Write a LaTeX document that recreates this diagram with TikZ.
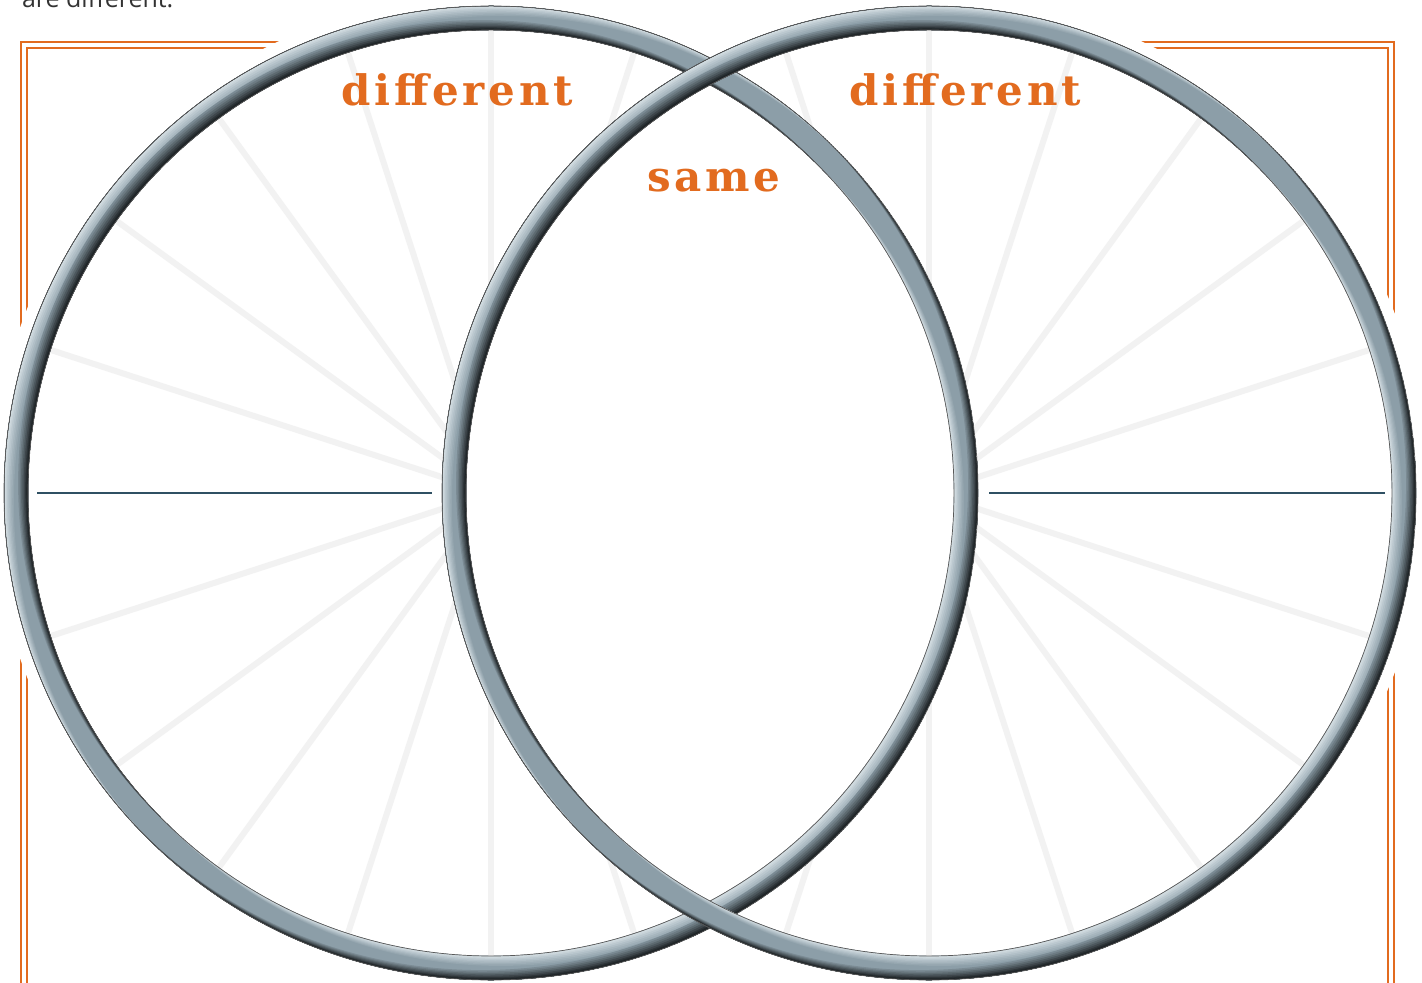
\documentclass[tikz,border=0pt]{standalone}
\usepackage{fontspec}
\usepackage{xcolor}
\usepackage{tikz}
\usetikzlibrary{calc,positioning}
\newfontfamily\slabfont[LetterSpace=9]{DejaVu Serif}
\newfontfamily\notefont{Open Sans}
\definecolor{frameorange}{HTML}{E26B1F}
\definecolor{spokegray}{HTML}{F2F2F2}
\definecolor{axisblue}{HTML}{2F5063}
\definecolor{ringmid}{HTML}{8C9EA8}
\definecolor{ringlight}{HTML}{D4DEE3}
\definecolor{ringdark}{HTML}{1C2124}
\newcommand{\Rout}{487}
\newcommand{\Rin}{463}
% metal ring, lit from the upper left; #1,#2 = centre
\newcommand{\metalring}[2]{%
  \begin{scope}[even odd rule]
    \clip (#1,#2) circle (\Rout) (#1,#2) circle (\Rin);
    \fill[ringmid] (#1,#2) circle (\Rout);
    \foreach \d/\p in {14/12,12/25,10/38,8/52,6/66,4/80,2.5/92,1.2/100}{
      \pgfmathsetmacro\s{\d*0.7071}
      \fill[ringlight!\p!ringmid] (#1,#2) circle (\Rout)
        (#1+\s,#2-\s) circle (\Rout) (#1+\s,#2-\s) circle (\Rin);
    }
    \foreach \d/\p in {14/15,12/28,10/42,8/56,6/70,4/84,2.5/94,1.2/100}{
      \pgfmathsetmacro\s{\d*0.7071}
      \fill[ringdark!\p!ringmid] (#1,#2) circle (\Rout)
        (#1-\s,#2+\s) circle (\Rout) (#1-\s,#2+\s) circle (\Rin);
    }
  \end{scope}
  \draw[ringedge] (#1,#2) circle (\Rout) (#1,#2) circle (\Rin);
}

\begin{document}
\begin{tikzpicture}[
  x=0.5pt,y=0.5pt,
  frameline/.style={frameorange,line width=1.3pt},
  spoke/.style={spokegray,line width=3pt},
  axisline/.style={axisblue,line width=1.3pt},
  ringedge/.style={black!65,line width=0.35pt},
  difftext/.style={frameorange,font=\slabfont\bfseries\fontsize{21}{24}\selectfont,anchor=base},
  notetext/.style={black!80,font=\notefont\fontsize{12.5}{15}\selectfont,anchor=base west}
]
\useasboundingbox (0,0) rectangle (1422,-983);
\coordinate (lc) at (491,-493);
\coordinate (rc) at (929,-493);

% orange double frame
\draw[frameline] (21,-1000) -- (21,-42) -- (1394,-42) -- (1394,-1000);
\draw[frameline] (27,-1000) -- (27,-48) -- (1388,-48) -- (1388,-1000);

% white halo round the rings
\fill[white] (lc) circle (499);
\fill[white] (rc) circle (499);
\fill[white] (690,-30) rectangle (730,-60);

% spokes
\foreach \a in {18,36,...,162,198,216,...,342}{
  \draw[spoke] (lc) -- ++(\a:470);
  \draw[spoke] (rc) -- ++(\a:470);
}

% overlap stays white
\begin{scope}
  \clip (lc) circle (470);
  \fill[white] (rc) circle (470);
\end{scope}

% writing lines
\coordinate (la) at (37,-493);
\coordinate (lb) at (432,-493);
\coordinate (ra) at (989,-493);
\coordinate (rb) at (1385,-493);
\draw[axisline] (la) -- (lb);
\draw[axisline] (ra) -- (rb);

% rings
\metalring{491}{-493}
\metalring{929}{-493}

% labels
\node[notetext] (topnote) at (15,-8) {are different.};
\node[difftext] (leftdiff) at (457,-106) {different};
\node[difftext] (rightdiff) at (965,-106) {different};
\node[difftext] (samelabel) at (714,-192) {same};
\end{tikzpicture}
\end{document}
